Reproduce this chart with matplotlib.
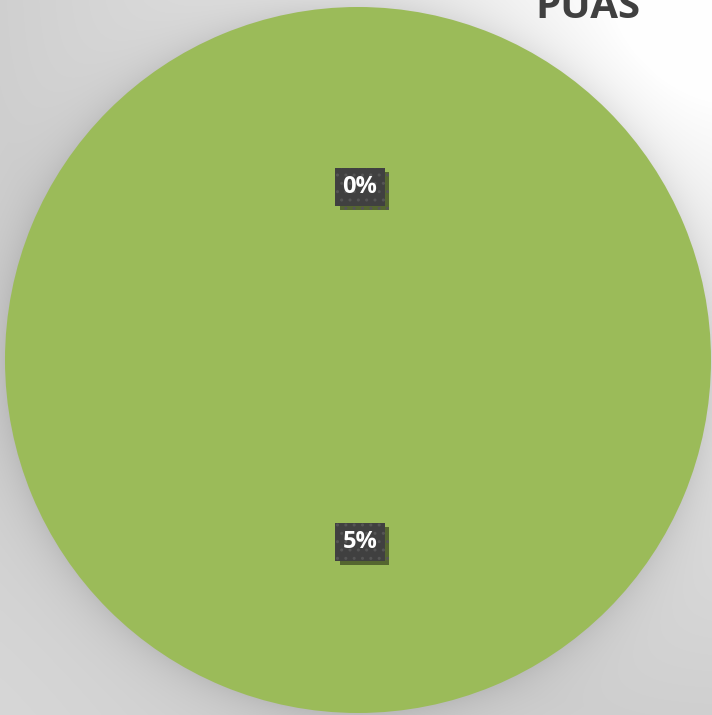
import numpy as np
import matplotlib
matplotlib.use("Agg")
import matplotlib.pyplot as plt
import matplotlib.patheffects as pe
from matplotlib.transforms import ScaledTranslation

# ---- data ----
categories = ["Categoría 1", "Categoría 2"]
values = [0.0, 0.05]
labels = ["0%", "5%"]
title = "PUAS"

W, H = 712, 715
fig = plt.figure(figsize=(W / 100, H / 100), dpi=100)

# background: soft radial gradient + pie shadow
bg = fig.add_axes([0, 0, 1, 1])
yy, xx = np.mgrid[0:H, 0:W]
d = np.hypot(xx - 730, yy + 20)
v = 255 - 48 * np.clip((d - 120) / 620, 0, 1) ** 0.8
v = v + 8 * np.clip((yy - 400) / 315, 0, 1) * np.clip(1 - xx / 300, 0, 1)
cx, cy, R = 358, 360, 353
rd = np.hypot(xx - cx, yy - cy) - R
shadow = np.where(rd > 0, 20 * np.exp(-rd / 20), 20)
v = np.clip(v - shadow, 0, 255) / 255.0
img = np.dstack([v, v, v])
bg.imshow(img, extent=(0, W, H, 0), interpolation="bilinear")
bg.set_xlim(0, W)
bg.set_ylim(H, 0)
bg.axis("off")

ax = fig.add_axes([0, 0, 1, 1])
ax.patch.set_alpha(0)
green = "#9BBB59"
wedges, texts = ax.pie(values, labels=labels, radius=R, center=(cx, H - cy),
                       startangle=90, counterclock=False,
                       colors=[green, green], labeldistance=0.503,
                       wedgeprops=dict(linewidth=0, edgecolor="none"),
                       textprops=dict(color="white", fontsize=17,
                                      fontweight="bold", family="Open Sans"))
shift = ScaledTranslation(2 / 100, -4.5 / 100, fig.dpi_scale_trans)
for t in texts:
    t.set_ha("center")
    t.set_va("center")
    t.set_transform(ax.transData + shift)
    t.set_bbox(dict(boxstyle="square,pad=0.3", facecolor="#404040",
                    edgecolor="#555555", linewidth=0, hatch=".."))
    t.get_bbox_patch().set_path_effects([
        pe.SimplePatchShadow(offset=(3, -3), shadow_rgbFace="black", alpha=0.45),
        pe.Normal()])
ax.set_xlim(0, W)
ax.set_ylim(0, H)
ax.set_aspect("equal")
ax.axis("off")

fig.text(588 / W, 1 - 18 / H, title, ha="center", va="baseline",
         fontsize=29, fontweight="bold", color="#404040", family="Open Sans")

fig.savefig("out.png", dpi=100)
